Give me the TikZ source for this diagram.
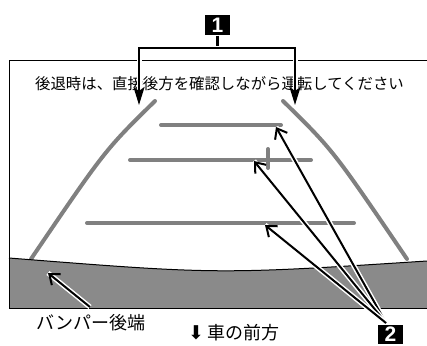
\documentclass[tikz,border=0pt]{standalone}
\usepackage{fontspec}
\setmainfont{Noto Sans CJK JP}
\newfontfamily\numfont{Liberation Sans}
\newfontfamily\symfont{DejaVu Sans}
\usetikzlibrary{arrows.meta}
\definecolor{guidegray}{HTML}{808080}
\definecolor{bumpergray}{HTML}{8A8A8A}

\begin{document}
\begin{tikzpicture}[
        x=1pt, y=-1pt,
        guide/.style={draw=guidegray, line width=4pt, line cap=round},
        callout/.style={black, line width=2pt,
                preaction={draw=white, line width=5pt, -}},
        numbox/.style={fill=black, text=white, inner sep=0pt,
                minimum width=25pt, minimum height=20pt,
                font=\numfont\bfseries\fontsize{21}{21}\selectfont},
        every node/.style={inner sep=0pt}
    ]
    \useasboundingbox (0,0) rectangle (427,345);

    % guide lines on the screen
    \draw[guide] (155,101) .. controls (105,150) .. (31,259);
    \draw[guide] (283,101) .. controls (333,150) .. (407,259);
    \draw[guide] (161,125) -- (281,125);
    \draw[guide] (130,160) -- (311,160);
    \draw[guide] (268,149) -- (268,168);
    \draw[guide] (87,223) -- (354,223);

    % bumper
    \fill[bumpergray] (9,258) .. controls (218,274.5) .. (427,261)
        -- (427,308) -- (9,308) -- cycle;
    \draw[line width=1pt] (9,258) .. controls (218,274.5) .. (427,261);
    \draw[line width=1pt] (427,60) -- (9,60) -- (9,308) -- (427,308);

    \node[font=\fontsize{15.4}{15.4}\selectfont] (msg) at (219.5,84)
        {後退時は、直接後方を確認しながら運転してください};
    \node[font=\fontsize{18}{18}\selectfont] (bumperlbl) at (91,323) {バンパー後端};
    \node[font=\fontsize{18}{18}\selectfont, anchor=west] (fwdlbl) at (188,333)
        {{\symfont\fontsize{19}{19}\selectfont ⬇}\,車の前方};

    \node[numbox, minimum height=19pt] (num2) at (390.5,334.5) {2};
    \node[numbox] (num1) at (217.5,25.5) {1};

    \coordinate (tipL) at (139,105);
    \coordinate (tipR) at (295,105);
    \coordinate (src2) at (386,323);
    \coordinate (tipA) at (276,127);
    \coordinate (tipB) at (254,161);
    \coordinate (tipC) at (265,225);
    \coordinate (bmpTail) at (90,307);
    \coordinate (bmpTip) at (48,273);

    % callouts
    \draw[callout, line width=2.5pt] (num1.south) -- ++(0,12.5) coordinate (fork);
    \draw[callout, line width=2.5pt, -{Stealth[length=18pt, width=11pt, inset=4pt]}]
        (fork) -| (tipL);
    \draw[callout, line width=2.5pt, -{Stealth[length=18pt, width=11pt, inset=4pt]}]
        (fork) -| (tipR);

    \draw[callout, -{Straight Barb[length=9pt, width=14pt]}] (src2) -- (tipA);
    \draw[callout, -{Straight Barb[length=9pt, width=14pt]}] (src2) -- (tipB);
    \draw[callout, -{Straight Barb[length=9pt, width=14pt]}] (src2) -- (tipC);
    \draw[callout, -{Straight Barb[length=9pt, width=14pt]}] (bmpTail) -- (bmpTip);
\end{tikzpicture}
\end{document}
